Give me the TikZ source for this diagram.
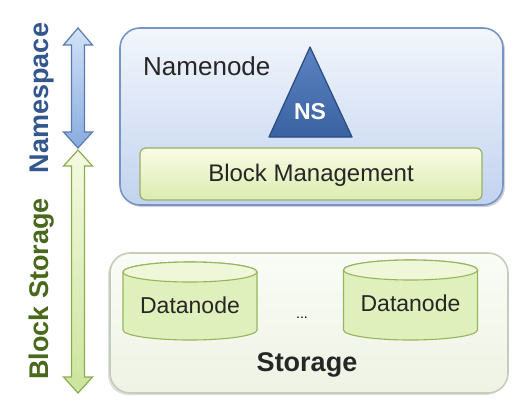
\documentclass[tikz,border=0pt]{standalone}
\usepackage{fontspec}
\setmainfont{Liberation Sans}
\usetikzlibrary{shadows}
\definecolor{nnborder}{HTML}{7894C6}
\definecolor{nntop}{HTML}{F2F6FC}
\definecolor{nnbot}{HTML}{C2D3EF}
\definecolor{bmtop}{HTML}{F9FCE4}
\definecolor{bmbot}{HTML}{DCEBB0}
\definecolor{bmborder}{HTML}{98B068}
\definecolor{tritop}{HTML}{5C84C2}
\definecolor{tribot}{HTML}{3A62A0}
\definecolor{triborder}{HTML}{2A4A80}
\definecolor{sttop}{HTML}{FAFCF6}
\definecolor{stbot}{HTML}{EEF3E4}
\definecolor{stborder}{HTML}{C4CCBC}
\definecolor{dnfill}{HTML}{E0F0BC}
\definecolor{dntop}{HTML}{EEF7D8}
\definecolor{dnborder}{HTML}{98B45C}
\definecolor{nstext}{HTML}{34568F}
\definecolor{bstext}{HTML}{4A681C}
\definecolor{batop}{HTML}{D2E2F8}
\definecolor{babot}{HTML}{88ACDE}
\definecolor{baborder}{HTML}{5A7AB0}
\definecolor{gatop}{HTML}{F4FAE0}
\definecolor{gabot}{HTML}{CCE49C}
\definecolor{gaborder}{HTML}{8CAC50}
\tikzset{
  bigbox/.style={rounded corners=20pt, line width=1.6pt},
  label/.style={font=\fontsize{23}{26}\selectfont, text=black!85, inner sep=0pt},
  sidetext/.style={font=\fontsize{27}{30}\selectfont\bfseries, rotate=90, inner sep=0pt},
  arrowline/.style={line width=1.2pt, line join=miter}
}
\begin{document}
\begin{tikzpicture}[x=1pt,y=-1pt]
\useasboundingbox (0,0) rectangle (526,418);
% Namenode box
\draw[bigbox, draw=nnborder, top color=nntop, bottom color=nnbot,
      drop shadow={opacity=0.35, shadow xshift=2pt, shadow yshift=-2pt}]
  (120,28) rectangle (503,205);
\node[label, font=\fontsize{26}{30}\selectfont, anchor=base west] (nn) at (143,75) {Namenode};
% Triangle NS
\draw[line width=1.2pt, draw=triborder, top color=tritop, bottom color=tribot, line join=round]
  (310,47) -- (352,137) -- (269,137) -- cycle;
\node[font=\fontsize{23}{26}\selectfont\bfseries, text=white, inner sep=0pt] (ns) at (310,112) {NS};
% Block management
\draw[rounded corners=6pt, line width=1.2pt, draw=bmborder, top color=bmtop, bottom color=bmbot]
  (140,148) rectangle (482,200);
\node[label, font=\fontsize{24}{27}\selectfont] (bm) at (311,175) {Block Management};
% Storage box
\draw[bigbox, draw=stborder, top color=sttop, bottom color=stbot,
      drop shadow={opacity=0.25, shadow xshift=-2pt, shadow yshift=-2pt}]
  (110,253) rectangle (508,393);
% Datanode cylinders
\foreach \cx/\ty in {190/272, 410.5/270} {
  \draw[line width=1.1pt, draw=dnborder, fill=dnfill]
    (\cx-67,\ty) -- (\cx-67,330) arc[start angle=180, end angle=360, x radius=67, y radius=-10]
    -- (\cx+67,\ty) arc[start angle=0, end angle=180, x radius=67, y radius=-10] -- cycle;
  \draw[line width=1.1pt, draw=dnborder, fill=dntop]
    (\cx,\ty) ellipse[x radius=67, y radius=10];
}
\node[label] (dn1) at (190,305) {Datanode};
\node[label] (dn2) at (410.5,303) {Datanode};
\node[font=\fontsize{14}{16}\selectfont, inner sep=0pt] (dots) at (302,318) {...};
\node[font=\fontsize{27}{30}\selectfont\bfseries, text=black!85, inner sep=0pt] (st) at (307,365) {Storage};
% Side arrows
\draw[arrowline, draw=baborder, top color=batop, bottom color=babot]
  (78,28) -- (92.5,45) -- (84.5,45) -- (84.5,132) -- (92.5,132) -- (78,148)
  -- (63.5,132) -- (71.5,132) -- (71.5,45) -- (63.5,45) -- cycle;
\draw[arrowline, draw=gaborder, top color=gatop, bottom color=gabot]
  (78,150) -- (92.5,166) -- (84.5,166) -- (84.5,377) -- (92.5,377) -- (78,393)
  -- (63.5,377) -- (71.5,377) -- (71.5,166) -- (63.5,166) -- cycle;
\node[sidetext, text=nstext] (nstxt) at (42,98) {Namespace};
\node[sidetext, text=bstext] (bstxt) at (42,289) {Block Storage};
\end{tikzpicture}
\end{document}
